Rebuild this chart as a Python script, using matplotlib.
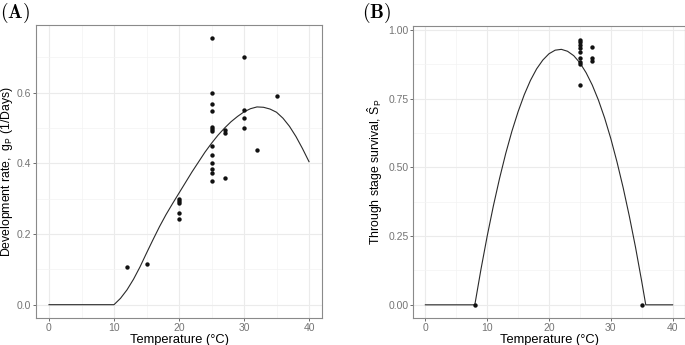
import numpy as np
import matplotlib
matplotlib.use("Agg")
import matplotlib.pyplot as plt
from matplotlib.ticker import MultipleLocator

plt.rcParams['font.family'] = ['Liberation Sans', 'DejaVu Sans']
plt.rcParams['mathtext.fontset'] = 'custom'
plt.rcParams['mathtext.rm'] = 'Liberation Sans'
plt.rcParams['mathtext.it'] = 'Liberation Sans:italic'
plt.rcParams['mathtext.bf'] = 'Liberation Sans:bold'

# (A) development rate observations
dev_temp = [12, 15, 20, 20, 20, 20, 20,
            25, 25, 25, 25, 25, 25, 25, 25, 25, 25, 25, 25, 25,
            27, 27, 27, 30, 30, 30, 30, 32, 35]
dev_rate = [0.108, 0.115, 0.298, 0.293, 0.289, 0.260, 0.244,
            0.754, 0.600, 0.569, 0.548, 0.503, 0.497, 0.491, 0.449, 0.424, 0.401, 0.383, 0.372, 0.351,
            0.496, 0.485, 0.358, 0.702, 0.552, 0.528, 0.501, 0.437, 0.590]

# (A) fitted curve
dev_curve_t = [0, 10, 11, 12, 13, 14, 15, 16, 17, 18, 19, 20, 21, 22, 23, 24, 25,
               26, 27, 28, 29, 30, 31, 32, 33, 34, 35, 36, 37, 38, 39, 40]
dev_curve_y = [0, 0, 0.018, 0.042, 0.072, 0.107, 0.146, 0.184, 0.221, 0.255, 0.286, 0.316,
               0.346, 0.376, 0.404, 0.432, 0.457, 0.480, 0.500, 0.518, 0.533, 0.546,
               0.555, 0.560, 0.559, 0.554, 0.545, 0.528, 0.505, 0.476, 0.442, 0.405]

# (B) survival observations
surv_temp = [8, 25, 25, 25, 25, 25, 25, 25, 25, 25, 27, 27, 27, 35]
surv_val = [0.0, 0.965, 0.955, 0.945, 0.935, 0.920, 0.897, 0.883, 0.877, 0.800,
            0.937, 0.897, 0.888, 0.0]

# (B) fitted curve
surv_curve_t = [0, 8, 9, 10, 11, 12, 13, 14, 15, 16, 17, 18, 19, 20, 21, 22, 23, 24,
                25, 26, 27, 28, 29, 30, 31, 32, 33, 34, 35, 35.65, 40]
surv_curve_y = [0, 0, 0.130, 0.250, 0.360, 0.460, 0.551, 0.632, 0.703, 0.765, 0.817,
                0.859, 0.891, 0.914, 0.927, 0.930, 0.923, 0.907, 0.881, 0.845, 0.800,
                0.745, 0.680, 0.605, 0.520, 0.426, 0.322, 0.209, 0.085, 0, 0]

W, H = 685, 345
fig = plt.figure(figsize=(W / 100, H / 100), dpi=100)


def style(ax, xmaj, ymaj):
    ax.set_facecolor('white')
    ax.xaxis.set_major_locator(MultipleLocator(xmaj))
    ax.xaxis.set_minor_locator(MultipleLocator(xmaj / 2))
    ax.yaxis.set_major_locator(MultipleLocator(ymaj))
    ax.yaxis.set_minor_locator(MultipleLocator(ymaj / 2))
    ax.grid(which='major', color='#ebebeb', lw=0.8, zorder=0)
    ax.grid(which='minor', color='#f3f3f3', lw=0.5, zorder=0)
    ax.set_axisbelow(True)
    for s in ax.spines.values():
        s.set_color('#8a8a8a')
        s.set_linewidth(0.8)
    ax.tick_params(which='major', length=2.3, width=0.6, color='#555555',
                   labelsize=7.5, labelcolor='#747474', pad=1.0)
    ax.tick_params(which='minor', length=0)


# panel A
axA = fig.add_axes([36 / W, 1 - 318 / H, 286 / W, 293 / H])
axA.plot(dev_curve_t, dev_curve_y, color='#2a2a2a', lw=0.8, zorder=2)
axA.scatter(dev_temp, dev_rate, s=10, color='#111111', zorder=3, linewidths=0)
axA.set_xlim(-2, 42)
axA.set_ylim(-0.0377, 0.792)
style(axA, 10, 0.2)
axA.yaxis.set_major_formatter(lambda v, p: f"{v:.1f}")
axA.set_xlabel("Temperature (°C)", fontsize=9.3, labelpad=1)
axA.set_ylabel(r"Development rate,  g$_{\mathrm{P}}$ (1/Days)", fontsize=8.8)
axA.yaxis.set_label_coords(-0.073, 0.5)

# panel B
axB = fig.add_axes([413 / W, 1 - 318 / H, 272 / W, 292 / H])
axB.plot(surv_curve_t, surv_curve_y, color='#2a2a2a', lw=0.8, zorder=2)
axB.scatter(surv_temp, surv_val, s=10, color='#111111', zorder=3, linewidths=0)
axB.set_xlim(-2, 42)
axB.set_ylim(-0.048, 1.015)
style(axB, 10, 0.25)
axB.yaxis.set_major_formatter(lambda v, p: f"{v:.2f}")
axB.set_xlabel("Temperature (°C)", fontsize=9.3, labelpad=1)
axB.set_ylabel(r"Through stage survival, $\hat{\mathrm{S}}_{\mathrm{P}}$", fontsize=8.8)
axB.yaxis.set_label_coords(-0.103, 0.5)

# panel tags
fig.text(0 / W, 1 - 1 / H, r"$\mathbf{(A)}$", fontsize=14, va='top', ha='left',
         math_fontfamily='cm')
fig.text(362 / W, 1 - 1 / H, r"$\mathbf{(B)}$", fontsize=14, va='top', ha='left',
         math_fontfamily='cm')

fig.savefig("out.png", dpi=100, facecolor='white')
